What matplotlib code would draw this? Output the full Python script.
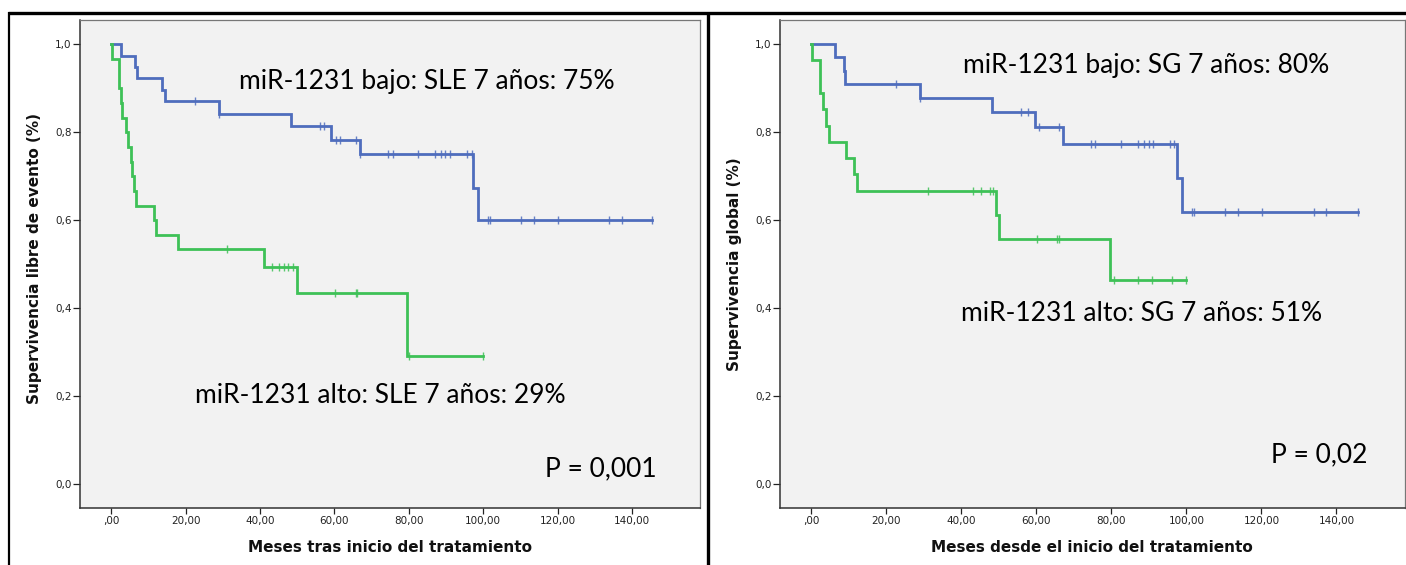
import numpy as np
import matplotlib
matplotlib.use("Agg")
import matplotlib.pyplot as plt
from matplotlib.lines import Line2D

W, H = 1406, 565

# Kaplan-Meier: event-free survival (SLE), months
sle_bajo_t = [2.7, 6.5, 6.9, 13.6, 14.5, 29.1, 48.2, 59.2, 67.0, 97.3, 98.7]
sle_bajo_s = [0.973, 0.948, 0.923, 0.896, 0.870, 0.841, 0.815, 0.782, 0.750, 0.674, 0.600]
sle_bajo_cens = [22.6, 29.1, 56.1, 57.3, 60.5, 61.6, 65.7, 67.0, 74.4, 75.7, 82.5, 87.0,
                 88.7, 89.7, 91.0, 95.7, 97.1, 101.4, 101.9, 110.3, 113.6, 120.0,
                 133.8, 137.2, 145.5]

sle_alto_t = [0.3, 2.0, 2.2, 2.5, 3.0, 4.0, 4.5, 5.4, 5.7, 6.0, 6.6, 11.4, 12.1, 17.9,
              41.0, 50.0, 79.4]
sle_alto_s = [0.967, 0.933, 0.900, 0.867, 0.833, 0.800, 0.767, 0.733, 0.700, 0.667,
              0.633, 0.600, 0.567, 0.533, 0.494, 0.434, 0.290]
sle_alto_cens = [31.1, 43.1, 45.2, 46.4, 47.5, 48.8, 60.1, 65.7, 66.1, 80.0, 100.0]

# Kaplan-Meier: overall survival (SG), months
sg_bajo_t = [6.3, 8.8, 9.0, 29.0, 48.1, 59.7, 67.0, 97.4, 98.8]
sg_bajo_s = [0.970, 0.940, 0.910, 0.878, 0.845, 0.811, 0.773, 0.695, 0.618]
sg_bajo_cens = [22.6, 29.0, 55.9, 57.7, 60.6, 65.9, 74.6, 75.7, 82.6, 87.2, 88.8, 89.9,
                91.0, 95.7, 96.8, 101.5, 101.9, 110.4, 113.7, 120.1, 133.9, 137.3, 145.7]

sg_alto_t = [0.2, 2.2, 2.4, 3.0, 3.8, 4.6, 9.1, 11.4, 12.1, 49.2, 49.9, 79.5]
sg_alto_s = [0.963, 0.926, 0.889, 0.852, 0.815, 0.778, 0.741, 0.704, 0.667, 0.611,
             0.556, 0.463]
sg_alto_cens = [31.0, 43.0, 45.2, 47.5, 48.4, 60.1, 65.5, 65.9, 80.8, 87.2, 90.7, 96.2, 99.9]

x_ticks = [0, 20, 40, 60, 80, 100, 120, 140]
x_ticklabels = [",00", "20,00", "40,00", "60,00", "80,00", "100,00", "120,00", "140,00"]
y_ticks = [0.0, 0.2, 0.4, 0.6, 0.8, 1.0]
y_ticklabels = ["0,0", "0,2", "0,4", "0,6", "0,8", "1,0"]

BLUE = "#4f6dbd"
GREEN = "#3ec157"
ANNOT_FONT = ["Lato", "DejaVu Sans"]

fig = plt.figure(figsize=(W / 100, H / 100), dpi=100)
fig.patch.set_facecolor("white")


def px_rect(x0, y0, x1, y1):
    return [x0 / W, 1 - y1 / H, (x1 - x0) / W, (y1 - y0) / H]


def km(ax, times, surv, cens, color):
    end = max(cens + times)
    xs = [0] + list(times) + [end]
    ys = [1.0] + list(surv) + [surv[-1]]
    ax.step(xs, ys, where="post", color=color, lw=2.0, solid_joinstyle="miter", zorder=3)
    t = np.asarray(times)
    s = np.asarray([1.0] + list(surv))
    lv = [s[np.searchsorted(t, c, side="right")] for c in cens]
    ax.plot(cens, lv, ls="none", marker="|", ms=6, mew=1.0, color=color, alpha=0.85, zorder=4)


def style_axes(ax):
    ax.set_facecolor("#f2f2f2")
    ax.set_xlim(-8.4, 158.3)
    ax.set_ylim(-0.055, 1.055)
    ax.set_xticks(x_ticks)
    ax.set_xticklabels(x_ticklabels)
    ax.set_yticks(y_ticks)
    ax.set_yticklabels(y_ticklabels)
    ax.tick_params(axis="both", direction="out", labelsize=7.5, colors="#222222",
                   length=4, width=0.9, pad=2)
    ax.tick_params(axis="y", length=5, pad=1)
    for side in ("left", "bottom"):
        ax.spines[side].set_color("#333333")
        ax.spines[side].set_linewidth(1.1)
    for side in ("top", "right"):
        ax.spines[side].set_color("#777777")
        ax.spines[side].set_linewidth(0.9)


ax1 = fig.add_axes(px_rect(80, 20, 700, 508))
style_axes(ax1)
km(ax1, sle_bajo_t, sle_bajo_s, sle_bajo_cens, BLUE)
km(ax1, sle_alto_t, sle_alto_s, sle_alto_cens, GREEN)

ax2 = fig.add_axes(px_rect(780, 20, 1405, 508))
style_axes(ax2)
km(ax2, sg_bajo_t, sg_bajo_s, sg_bajo_cens, BLUE)
km(ax2, sg_alto_t, sg_alto_s, sg_alto_cens, GREEN)


def ftext(x, y, s, **kw):
    fig.text(x / W, 1 - y / H, s, **kw)


# axis titles
lab = dict(fontsize=11, fontweight="bold", color="#111111", ha="center", va="center")
ftext(390, 548, "Meses tras inicio del tratamiento", **lab)
ftext(1092, 548, "Meses desde el inicio del tratamiento", **lab)
ftext(35, 258, "Supervivencia libre de evento (%)", rotation=90, **lab)
ftext(735, 264, "Supervivencia global (%)", rotation=90, **lab)

# annotations
ann = dict(fontsize=19, family=ANNOT_FONT, color="black", va="baseline", ha="left")
ftext(239, 89, "miR-1231 bajo: SLE 7 años: 75%", **ann)
ftext(195, 403, "miR-1231 alto: SLE 7 años: 29%", **ann)
ftext(545, 476, "P = 0,001", **ann)
ftext(963, 73, "miR-1231 bajo: SG 7 años: 80%", **ann)
ftext(961, 321, "miR-1231 alto: SG 7 años: 51%", **ann)
ftext(1271, 462, "P = 0,02", **ann)

# panel frames
frame = dict(color="black", transform=fig.transFigure, solid_capstyle="butt")
fig.add_artist(Line2D([8 / W, 1.0], [1 - 13 / H, 1 - 13 / H], lw=2.4, **frame))
fig.add_artist(Line2D([8.5 / W, 8.5 / W], [0, 1 - 12 / H], lw=1.6, **frame))
fig.add_artist(Line2D([708 / W, 708 / W], [0, 1 - 12 / H], lw=2.4, **frame))

fig.savefig("out.png", dpi=100, facecolor="white")
